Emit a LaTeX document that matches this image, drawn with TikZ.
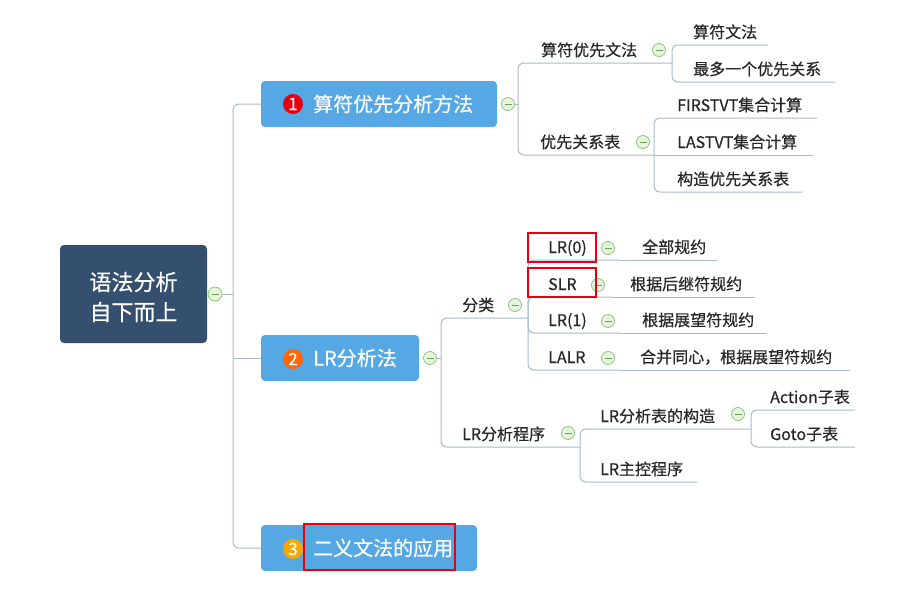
\documentclass[tikz,border=0pt]{standalone}
\usepackage{fontspec}
\setmainfont{Noto Sans CJK SC}[FakeBold=0.5]
\definecolor{rootcol}{RGB}{52,80,110}
\definecolor{brcol}{RGB}{86,168,229}
\definecolor{lncol}{RGB}{170,186,206}
\definecolor{txt}{RGB}{40,40,40}
\definecolor{colG}{RGB}{140,200,115}
\definecolor{colF}{RGB}{230,245,222}
\definecolor{hlred}{RGB}{232,0,12}
\definecolor{bred}{RGB}{230,0,18}
\definecolor{borange}{RGB}{255,104,0}
\definecolor{bgold}{RGB}{247,168,0}
\begin{document}
\begin{tikzpicture}[x=1pt,y=-1pt,
  ln/.style={draw=lncol, line width=1pt},
  cn/.style={draw=lncol, line width=1pt, rounded corners=6pt},
  sub/.style={anchor=west, inner sep=0pt, text=txt, font=\fontsize{16}{18}\selectfont, text height=14pt, text depth=2pt},
  brtext/.style={anchor=west, inner sep=0pt, text=white, font=\fontsize{20}{22}\selectfont, text height=17.6pt, text depth=2.4pt},
  col/.style={circle, draw=colG, fill=colF, line width=0.8pt, minimum size=13pt, inner sep=0pt,
    path picture={\draw[colG!80!black, line width=0.9pt] ([xshift=-3.5pt]path picture bounding box.center) -- ([xshift=3.5pt]path picture bounding box.center);}},
  branch/.style={fill=brcol, rounded corners=4pt, minimum height=46pt, inner sep=0pt},
  badge/.style={circle, inner sep=0pt, minimum size=20pt, text=white, font=\fontsize{17}{17}\selectfont},
  hl/.style={draw=hlred, line width=2.5pt}
]
\useasboundingbox[fill=white] (0,0) rectangle (920,600);

% ---------- root ----------
\node[fill=rootcol, rounded corners=4pt, minimum width=147pt, minimum height=98pt, inner sep=0pt] (root) at (133.5,294) {};
\node[text=white, align=center, font=\fontsize{22}{30}\selectfont, inner sep=0pt] (roottxt) at (133.5,297) {语法分析\\自下而上};
\node[col, minimum size=14pt] (croot) at (215,294) {};

% ---------- branches ----------
\node[branch, minimum width=236pt] (b1) at (379,104) {};
\node[badge, fill=bred] (k1) at (293,104) {1};
\node[brtext] (t1) at (313,104) {算符优先分析方法};
\node[col] (cb1) at (508,104) {};

\node[branch, minimum width=158pt] (b2) at (340,358) {};
\node[badge, fill=borange] (k2) at (293,359) {2};
\node[brtext] (t2) at (313,358) {LR分析法};
\node[col] (cb2) at (430,358) {};

\node[branch, minimum width=216pt] (b3) at (369,548) {};
\node[badge, fill=bgold] (k3) at (293,549) {3};
\node[brtext] (t3) at (313,548) {二义文法的应用};

% root trunk
\coordinate (jr) at (233,294);
\draw[ln] (croot.east) -- (jr);
\draw[cn] (jr) -- (233,104) -- (b1.west);
\draw[cn] (jr) -- (233,548) -- (b3.west);
\draw[ln] (233,358) -- (b2.west);

% ---------- branch 1 ----------
\coordinate (j1) at (518,104);
\draw[ln] (cb1.east) -- (j1);
\node[sub] (s11) at (541,50) {算符优先文法};
\node[col] (cs11) at (659,50) {};
\node[sub] (s12) at (540,142) {优先关系表};
\node[col] (cs12) at (643,142) {};
\draw[cn] (j1) -- (518,63) -- (672,63);
\draw[cn] (j1) -- (518,155) -- (654,155);

\coordinate (j11) at (672,63);
\node[sub] (s111) at (693,32) {算符文法};
\node[sub] (s112) at (693,69) {最多一个优先关系};
\draw[cn] (j11) -- (672,45) -- (768,45);
\draw[cn] (j11) -- (672,82) -- (835,82);

\coordinate (j12) at (654,155);
\node[sub] (s121) at (677,105) {FIRSTVT集合计算};
\node[sub] (s122) at (677,142) {LASTVT集合计算};
\node[sub] (s123) at (677,179) {构造优先关系表};
\draw[cn] (j12) -- (654,118) -- (817,118);
\draw[ln] (j12) -- (813,155);
\draw[cn] (j12) -- (654,192) -- (802,192);

% ---------- branch 2 ----------
\coordinate (j2) at (441,358);
\draw[ln] (cb2.east) -- (j2);
\node[sub] (s21) at (462,305) {分类};
\node[col] (cs21) at (515,305) {};
\node[sub] (s22) at (462,434) {LR分析程序};
\node[col] (cs22) at (568,433) {};
\draw[cn] (j2) -- (441,318) -- (528,318);
\draw[cn] (j2) -- (441,447) -- (580,447);

\coordinate (j21) at (528,318);
\node[sub] (s211) at (548,247) {LR(0)};
\node[col] (cs211) at (608,248) {};
\node[sub] (s212) at (548,284) {SLR};
\node[col] (cs212) at (598,285) {};
\node[sub] (s213) at (548,320) {LR(1)};
\node[col] (cs213) at (608,321) {};
\node[sub] (s214) at (548,357) {LALR};
\node[col] (cs214) at (608,358) {};
\draw[cn] (j21) -- (528,260) -- (620,260);
\draw[cn] (j21) -- (528,297) -- (612,297);
\draw[cn] (j21) -- (528,333) -- (620,333);
\draw[cn] (j21) -- (528,370) -- (620,370);

\node[sub] (s2111) at (642,247) {全部规约};
\node[sub] (s2121) at (630,284) {根据后继符规约};
\node[sub] (s2131) at (642,320) {根据展望符规约};
\node[sub] (s2141) at (640,357) {合并同心，根据展望符规约};
\draw[ln] (620,260) -- (717,260);
\draw[ln] (612,297) -- (755,297);
\draw[ln] (620,333) -- (767,333);
\draw[ln] (620,370) -- (850,370);

\coordinate (j22) at (580,447);
\node[sub] (s221) at (600,416) {LR分析表的构造};
\node[col] (cs221) at (738,414) {};
\node[sub] (s222) at (600,469) {LR主控程序};
\draw[cn] (j22) -- (580,429) -- (751,429);
\draw[cn] (j22) -- (580,482) -- (697,482);

\coordinate (j221) at (751,429);
\node[sub] (s2211) at (770,397) {Action子表};
\node[sub] (s2212) at (770,434) {Goto子表};
\draw[cn] (j221) -- (751,410) -- (855,410);
\draw[cn] (j221) -- (751,447) -- (855,447);

% ---------- highlights ----------
\draw[hl] (528,233) rectangle (596,262);
\draw[hl] (528,268) rectangle (596,297);
\draw[hl] (304,524) rectangle (455,570);
\end{tikzpicture}
\end{document}
